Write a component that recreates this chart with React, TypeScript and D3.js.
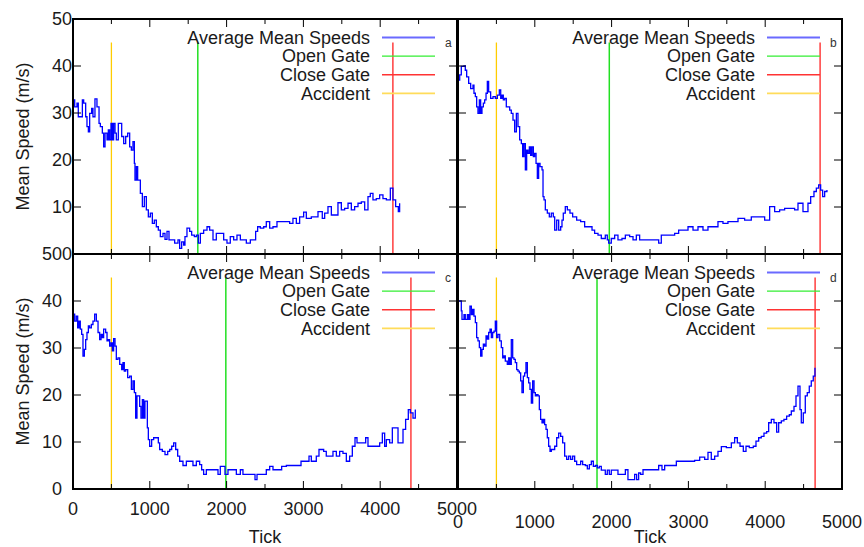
import React from 'react';
import * as d3 from 'd3';

// [tick, mean speed]
const speedA: [number, number][] = [
  [0, 32.8], [22, 31.3], [52, 32.1], [69, 29.2], [100, 29.2], [122, 32.8], [139, 32.1], [165, 29.2], [182, 27.1], [200, 26],
  [217, 29.9], [243, 31], [260, 29.2], [286, 33], [312, 31.3], [339, 27.8], [356, 27.1], [382, 25.7], [399, 22.8], [417, 25.7],
  [443, 24.3], [460, 26.4], [477, 24.3], [495, 27.8], [512, 24.3], [529, 27.8], [547, 25.7], [564, 24.3], [590, 27.8], [616, 27.8],
  [634, 25], [660, 23.5], [686, 25], [712, 25.7], [738, 22.8], [760, 22.1], [781, 23.9], [799, 19.3], [807, 15.7], [825, 18.6],
  [842, 15.7], [859, 15.7], [877, 12.9], [903, 10.1], [929, 12.2], [955, 9.4], [981, 7.9], [1007, 8.7], [1033, 6.5], [1059, 7.2],
  [1085, 5.8], [1111, 5.1], [1137, 3.7], [1172, 4.4], [1198, 3.1], [1224, 4.8], [1250, 3], [1280, 3], [1324, 2.3], [1367, 3],
  [1389, 1.2], [1415, 2.6], [1441, 1.9], [1458, 3.7], [1484, 5.5], [1519, 4.8], [1545, 4], [1580, 3.7], [1606, 4], [1632, 2.3],
  [1658, 4.4], [1701, 5.1], [1745, 5.8], [1779, 5.1], [1823, 3], [1866, 4.4], [1910, 4.4], [1962, 3], [2005, 2.3], [2048, 3.7],
  [2092, 3], [2135, 4], [2179, 3], [2235, 3], [2257, 2.3], [2309, 3], [2352, 3], [2378, 4.8], [2404, 5.8], [2439, 5.5],
  [2483, 5.8], [2517, 6.9], [2561, 5.5], [2604, 5.8], [2656, 6.9], [2713, 6.9], [2778, 6.9], [2821, 6.5], [2864, 7.6], [2908, 6.5],
  [2951, 7.9], [3003, 8.9], [3038, 7.6], [3103, 7.9], [3160, 7.9], [3190, 9], [3246, 7.6], [3277, 8.7], [3320, 10.1], [3364, 8.3],
  [3407, 8.3], [3450, 10.9], [3494, 9.4], [3537, 9.7], [3581, 10.8], [3624, 9.4], [3667, 10.1], [3711, 10.8], [3754, 11.1], [3798, 9.4],
  [3841, 12.2], [3871, 12.9], [3906, 11.5], [3949, 11.8], [3993, 12.6], [4036, 11.8], [4080, 11.5], [4132, 14], [4166, 11.5], [4201, 10.1],
  [4236, 9], [4253, 10.8],
];

const speedB: [number, number][] = [
  [0, 37], [22, 38.1], [43, 39.9], [78, 40], [95, 39.1], [113, 37.7], [139, 36.3], [165, 35.2], [195, 35.9], [208, 34.2],
  [226, 33.5], [243, 31.3], [260, 29.9], [278, 32.8], [295, 29.9], [312, 31.3], [330, 32.1], [347, 32.8], [365, 34.2], [382, 36.7],
  [399, 34.5], [425, 33.1], [456, 33.5], [486, 33.1], [512, 33.8], [538, 34.9], [556, 33.1], [573, 33.8], [590, 32.8], [608, 33.1],
  [629, 31.3], [651, 31.3], [673, 30.6], [694, 29.9], [716, 28.5], [738, 26], [760, 29.9], [781, 27.1], [803, 24.3], [825, 23.5],
  [842, 20.7], [859, 23.5], [877, 17.9], [894, 22.1], [911, 21.4], [929, 22.8], [946, 21], [963, 22.8], [981, 20.7], [998, 21.4],
  [1016, 19.3], [1033, 16.1], [1050, 19.3], [1068, 18.6], [1094, 17.9], [1107, 12.2], [1120, 11.5], [1137, 9.4], [1163, 8.7], [1189, 7.9],
  [1215, 8.7], [1241, 7.9], [1259, 5.1], [1285, 7.2], [1311, 5.1], [1337, 5.8], [1354, 7.2], [1371, 8.7], [1397, 10.1], [1424, 9.4],
  [1458, 8.7], [1493, 7.9], [1545, 7.2], [1597, 6.9], [1649, 5.8], [1710, 5.8], [1745, 5.1], [1779, 4.4], [1823, 4], [1866, 3.3],
  [1918, 4], [1944, 3], [1962, 2.3], [1996, 3.3], [2040, 4], [2083, 3], [2135, 3.3], [2179, 4], [2235, 3.7], [2279, 3],
  [2322, 4], [2365, 3], [2430, 3], [2517, 3], [2613, 2.3], [2647, 4], [2734, 4], [2821, 4.4], [2873, 5.1], [2951, 5.1],
  [2995, 5.8], [3060, 5.1], [3125, 5.8], [3190, 5.1], [3255, 5.8], [3320, 5.8], [3385, 6.9], [3450, 6.5], [3515, 6.9], [3581, 6.9],
  [3646, 7.6], [3732, 7.2], [3819, 7.9], [3906, 7.9], [3993, 7.2], [4058, 10.1], [4123, 9], [4188, 9.4], [4253, 9.7], [4318, 9.7],
  [4383, 9.4], [4427, 10.8], [4492, 9], [4557, 10.8], [4592, 12.2], [4635, 13.3], [4666, 14], [4696, 14.7], [4722, 13.6], [4748, 12.2],
  [4774, 13.3], [4804, 13.6],
];

const speedC: [number, number][] = [
  [0, 37.2], [22, 35.7], [43, 36.8], [61, 34.3], [78, 35.7], [95, 34], [113, 32.9], [130, 28.3], [148, 29.7], [165, 31.8],
  [182, 33.3], [200, 34.7], [217, 34.3], [239, 35], [260, 35.7], [282, 37.2], [304, 35.7], [326, 33.3], [347, 31.8], [365, 32.9],
  [382, 32.2], [399, 34], [425, 33.3], [443, 31.5], [460, 31.8], [477, 30.4], [495, 31.1], [512, 29.4], [529, 32], [547, 30.4],
  [564, 27.6], [586, 27.9], [608, 26.5], [634, 25.4], [651, 26.9], [668, 25.1], [686, 25.4], [712, 23.7], [738, 24], [760, 21.2],
  [781, 23], [799, 20.5], [816, 15.1], [833, 19.8], [851, 19.8], [868, 17.6], [885, 15.1], [903, 19], [920, 15.1], [937, 18.7],
  [955, 18.7], [968, 13], [981, 10.5], [998, 9.1], [1024, 10.5], [1050, 10.9], [1085, 10.9], [1111, 9.8], [1128, 8.4], [1163, 8],
  [1198, 7.3], [1233, 8], [1259, 8.4], [1285, 9.1], [1311, 9.8], [1337, 8.4], [1363, 7], [1389, 5.9], [1432, 5], [1476, 5.9],
  [1519, 5.9], [1562, 5], [1606, 5.9], [1649, 5.2], [1675, 4.1], [1701, 3.1], [1736, 4.1], [1779, 4.1], [1845, 4.1], [1888, 3.1],
  [1918, 4.8], [1944, 4.8], [1979, 3.1], [2018, 4.1], [2083, 4.1], [2127, 3.1], [2179, 4.1], [2213, 3.1], [2279, 3.1], [2344, 3.1],
  [2370, 2], [2396, 3.1], [2474, 3.1], [2517, 4.1], [2561, 4.8], [2604, 4.1], [2647, 4.1], [2717, 4.8], [2778, 5], [2864, 5],
  [2969, 5.9], [3016, 5.9], [3073, 7], [3103, 5.9], [3168, 7], [3203, 8.4], [3238, 8.4], [3264, 8], [3298, 7], [3342, 7],
  [3385, 8], [3429, 7], [3472, 8], [3515, 7.6], [3559, 5.9], [3602, 7], [3637, 9.1], [3672, 10.9], [3698, 9.8], [3754, 9.8],
  [3811, 10.9], [3841, 9.1], [3884, 9.1], [3949, 9.1], [3993, 9.8], [4028, 11.9], [4058, 9.1], [4080, 10.5], [4123, 9.8], [4158, 13],
  [4188, 13], [4232, 9.8], [4262, 9.8], [4297, 12.7], [4331, 14.8], [4366, 16.9], [4392, 16.2], [4427, 15.1], [4457, 16.9],
];

const speedD: [number, number][] = [
  [0, 40], [22, 40], [43, 37.9], [52, 36.1], [78, 37.1], [95, 36.1], [122, 37.1], [139, 36.1], [156, 38.9], [174, 37.1],
  [191, 38.2], [208, 36.8], [226, 35.4], [243, 32.2], [260, 31.5], [278, 30.1], [295, 28.3], [312, 29.7], [330, 30.8], [347, 30.4],
  [365, 32.6], [382, 31.9], [399, 33.3], [417, 34], [434, 32.2], [451, 33.3], [469, 33.6], [486, 35.7], [503, 32.2], [521, 32.9],
  [543, 31.5], [564, 30.1], [582, 27.9], [599, 28.3], [616, 27.2], [642, 26.5], [660, 27.9], [677, 26.5], [694, 31.8], [712, 27.9],
  [729, 27.6], [746, 26.9], [764, 25.4], [781, 25.1], [799, 24.7], [816, 23], [833, 20.5], [851, 24], [868, 24.7], [885, 26.9],
  [903, 23.7], [920, 22.6], [937, 21.2], [955, 18.3], [972, 23], [990, 20.5], [1007, 19.8], [1024, 20.1], [1042, 19.8], [1059, 16.9],
  [1076, 14.8], [1094, 14.1], [1111, 14.8], [1128, 13.7], [1146, 12.7], [1163, 10.9], [1180, 9.1], [1198, 8], [1215, 8.4], [1241, 8.4],
  [1259, 9.1], [1285, 10.9], [1311, 11.9], [1337, 11.2], [1363, 9.8], [1389, 7], [1415, 6.3], [1441, 7], [1467, 6.3], [1493, 7],
  [1519, 5.9], [1545, 5.2], [1571, 5.2], [1597, 5.9], [1623, 5.2], [1658, 5], [1684, 4.3], [1710, 5.2], [1736, 5.9], [1762, 4.8],
  [1788, 5], [1814, 4.5], [1840, 4.8], [1866, 4], [1892, 4], [1918, 3.1], [1944, 4], [1970, 3.1], [1996, 4], [2040, 4],
  [2083, 3.1], [2127, 3.1], [2179, 4.1], [2213, 2], [2257, 2], [2300, 3.1], [2326, 2], [2352, 3.4], [2378, 3.1], [2409, 4.1],
  [2452, 4.1], [2517, 4.1], [2582, 4.1], [2613, 5], [2656, 4.1], [2691, 5], [2734, 5], [2778, 5], [2843, 5.9], [2908, 5.9],
  [2995, 5.9], [3081, 6.1], [3147, 6.8], [3212, 6.3], [3255, 7.8], [3298, 6.3], [3342, 7], [3385, 8], [3429, 9], [3494, 8.8],
  [3559, 9.8], [3602, 10.9], [3637, 9.8], [3672, 9.1], [3715, 8], [3750, 9.1], [3793, 8.8], [3845, 9.1], [3880, 10.2], [3915, 10.9],
  [3949, 11.2], [3984, 11.9], [4019, 12.2], [4045, 14.1], [4080, 14.8], [4114, 14.1], [4149, 12.1], [4175, 14.1], [4210, 14.5], [4244, 14.8],
  [4279, 15.5], [4314, 15.8], [4340, 16.6], [4375, 17.6], [4401, 19.8], [4427, 21.9], [4453, 16.9], [4470, 14.1], [4496, 16.2], [4522, 19.8],
  [4548, 20.5], [4574, 21.9], [4600, 23], [4626, 24], [4648, 25.8],
];

const panelSeries = [speedA, speedB, speedC, speedD];
const panelLetters = ['a', 'b', 'c', 'd'];
const accidentTicks = [500, 500, 500, 500];
const openGateTicks = [1625, 1970, 1990, 1810];
const closeGateTicks = [4165, 4715, 4400, 4650];
const eventTop = 45;

const xTicks = [0, 1000, 2000, 3000, 4000, 5000];
const xMinorTicks = [500, 1500, 2500, 3500, 4500];
const yTicks = [0, 10, 20, 30, 40, 50];
const legendLabels = ['Average Mean Speeds', 'Open Gate', 'Close Gate', 'Accident'];

const FONT = '"Liberation Sans", Arial, Helvetica, sans-serif';
const BLUE = '#0000ff';
const GREEN = '#22e022';
const RED = '#ff4a4a';
const YELLOW = '#ffcc00';
const legendColors = ['#6a6aff', '#33ee33', '#ff3333', '#ffdc5a'];

type PanelProps = {
  idx: number;
  x0: number; x1: number; y0: number; y1: number;
  yLabelEnd: number | null;
  xLabelY: number | null;
  showYTitle: boolean;
  hideTopZero?: boolean;
};

const Panel = ({ idx, x0, x1, y0, y1, yLabelEnd, xLabelY, showYTitle }: PanelProps) => {
  const x = d3.scaleLinear().domain([0, 5000]).range([x0, x1]);
  const y = d3.scaleLinear().domain([0, 50]).range([y1, y0]);
  const line = d3.line<[number, number]>()
    .x(d => x(d[0]))
    .y(d => y(d[1]))
    .curve(d3.curveStepAfter);
  const data = panelSeries[idx];
  const events = [
    { t: accidentTicks[idx], c: YELLOW, w: 1.3 },
    { t: openGateTicks[idx], c: GREEN, w: 1.5 },
    { t: closeGateTicks[idx], c: RED, w: 1.6 },
  ];
  const mid = (x0 + x1) / 2;
  return (
    <g>
      {events.map((e, i) => (
        <line key={i} x1={x(e.t)} x2={x(e.t)} y1={y(0)} y2={y(eventTop)} stroke={e.c} strokeWidth={e.w} />
      ))}
      <path d={line(data) || ''} fill="none" stroke={BLUE} strokeWidth={1.3} />

      {/* legend */}
      {legendLabels.map((lab, i) => {
        const ly = y0 + 18.5 + i * 18.6;
        return (
          <g key={lab}>
            <text x={x0 + 297} y={ly} dy="0.35em" textAnchor="end" fontSize={18} fill="#1a1a1a" fontFamily={FONT}>{lab}</text>
            <line x1={x0 + 309} x2={x0 + 362} y1={ly} y2={ly} stroke={legendColors[i]} strokeWidth={i === 0 || i === 3 ? 1.8 : 1.4} />
          </g>
        );
      })}
      <text x={x0 + 372} y={y0 + 24} dy="0.35em" fontSize={12} fill="#333" fontFamily={FONT}>{panelLetters[idx]}</text>

      {/* ticks, inward on all sides */}
      {xTicks.map(t => (
        <g key={'xt' + t}>
          <line x1={x(t)} x2={x(t)} y1={y1} y2={y1 - 8} stroke="#000" strokeWidth={1} />
          <line x1={x(t)} x2={x(t)} y1={y0} y2={y0 + 8} stroke="#000" strokeWidth={1} />
        </g>
      ))}
      {xMinorTicks.map(t => (
        <g key={'xm' + t}>
          <line x1={x(t)} x2={x(t)} y1={y1} y2={y1 - 5} stroke="#000" strokeWidth={1} />
          <line x1={x(t)} x2={x(t)} y1={y0} y2={y0 + 5} stroke="#000" strokeWidth={1} />
        </g>
      ))}
      {yTicks.map(t => (
        <g key={'yt' + t}>
          <line x1={x0} x2={x0 + 8} y1={y(t)} y2={y(t)} stroke="#000" strokeWidth={1} />
          <line x1={x1} x2={x1 - 8} y1={y(t)} y2={y(t)} stroke="#000" strokeWidth={1} />
        </g>
      ))}
      <rect x={x0} y={y0} width={x1 - x0} height={y1 - y0} fill="none" stroke="#000" strokeWidth={2} />

      {yLabelEnd !== null && yTicks.map(t => (
        <text key={'yl' + t} x={yLabelEnd} y={y(t)} dy="0.35em" textAnchor="end" fontSize={18} fill="#1a1a1a" fontFamily={FONT}>{t}</text>
      ))}
      {xLabelY !== null && xTicks.map(t => (
        <text key={'xl' + t} x={x(t)} y={xLabelY} dy="0.35em" textAnchor="middle" fontSize={18} fill="#1a1a1a" fontFamily={FONT}>{t}</text>
      ))}
      {xLabelY !== null && (
        <text x={mid} y={537} dy="0.35em" textAnchor="middle" fontSize={18} fill="#1a1a1a" fontFamily={FONT}>Tick</text>
      )}
      {showYTitle && (
        <text transform={`translate(23,${(y0 + y1) / 2}) rotate(-90)`} dy="0.35em" textAnchor="middle" fontSize={18} fill="#1a1a1a" fontFamily={FONT}>Mean Speed (m/s)</text>
      )}
    </g>
  );
};

export default function App() {
  return (
    <div style={{ position: 'absolute', left: 0, top: 0 }}>
      <svg width={864} height={547} style={{ display: 'block', background: '#fff' }}>
        <Panel idx={0} x0={73} x1={457} y0={19} y1={254} yLabelEnd={72} xLabelY={null} showYTitle />
        <Panel idx={1} x0={458} x1={842} y0={19} y1={254} yLabelEnd={null} xLabelY={null} showYTitle={false} />
        <Panel idx={2} x0={73} x1={457} y0={254} y1={489} yLabelEnd={62} xLabelY={509} showYTitle />
        <Panel idx={3} x0={458} x1={842} y0={254} y1={489} yLabelEnd={null} xLabelY={522} showYTitle={false} />
      </svg>
    </div>
  );
}
